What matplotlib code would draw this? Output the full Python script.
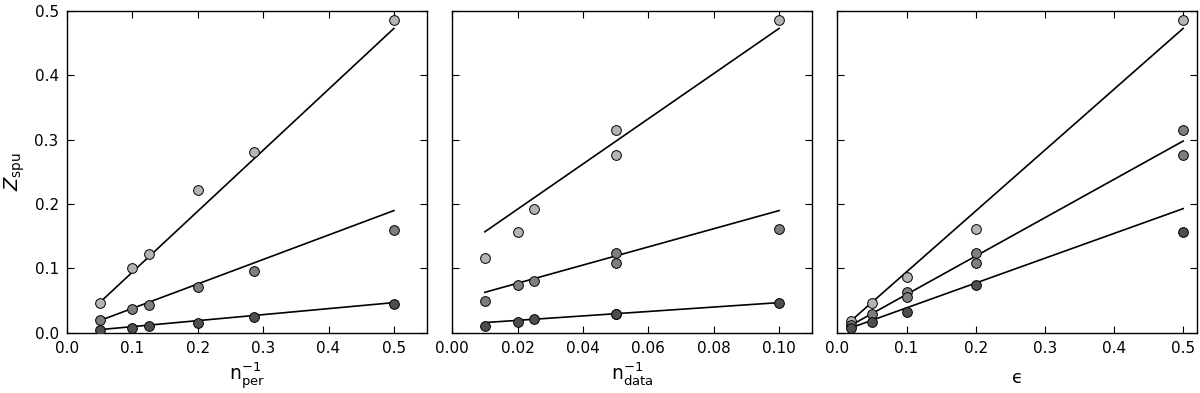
import numpy as np
import matplotlib
matplotlib.use('Agg')
import matplotlib.pyplot as plt

# --- data ---
# panel 1: Z_spu vs 1/n_per
x_per = [0.05, 0.1, 0.125, 0.2, 0.2857, 0.5]
per_light = [0.046, 0.101, 0.123, 0.222, 0.281, 0.486]
per_mid = [0.020, 0.037, 0.043, 0.071, 0.096, 0.160]
per_dark = [0.005, 0.008, 0.011, 0.016, 0.024, 0.045]
per_fit_x = [0.05, 0.5]
per_fit_light = [0.047, 0.473]
per_fit_mid = [0.019, 0.190]
per_fit_dark = [0.005, 0.047]

# panel 2: Z_spu vs 1/n_data (two runs at 0.05)
x_data = [0.01, 0.02, 0.025, 0.05, 0.05, 0.1]
data_light = [0.116, 0.156, 0.193, 0.315, 0.276, 0.486]
data_mid = [0.050, 0.074, 0.081, 0.124, 0.109, 0.161]
data_dark = [0.011, 0.017, 0.021, 0.030, 0.029, 0.046]
data_fit_x = [0.01, 0.1]
data_fit_light = [0.157, 0.473]
data_fit_mid = [0.063, 0.190]
data_fit_dark = [0.016, 0.047]

# panel 3: Z_spu vs epsilon
x_eps = [0.02, 0.05, 0.1, 0.2, 0.5]
eps_light = [0.019, 0.046, 0.087, 0.161, 0.486]
x_eps_mid = [0.02, 0.05, 0.1, 0.1, 0.2, 0.2, 0.5, 0.5]
eps_mid = [0.012, 0.030, 0.063, 0.056, 0.124, 0.109, 0.315, 0.276]
eps_dark = [0.007, 0.017, 0.033, 0.074, 0.156]
eps_fit_x = [0.02, 0.5]
eps_fit_light = [0.019, 0.473]
eps_fit_mid = [0.012, 0.298]
eps_fit_dark = [0.008, 0.193]

TICKS_05 = ['0.0', '0.1', '0.2', '0.3', '0.4', '0.5']
TICKS_01 = ['0.00', '0.02', '0.04', '0.06', '0.08', '0.10']

GREYS = {'light': '#b4b4b4', 'mid': '#7e7e7e', 'dark': '#4e4e4e'}

plt.rcParams['font.family'] = ['DejaVu Sans']
plt.rcParams['mathtext.fontset'] = 'dejavusans'


def style_axes(ax):
    ax.tick_params(direction='in', top=True, right=True, length=5, width=0.8,
                   labelsize=11, pad=6)
    for s in ax.spines.values():
        s.set_linewidth(1.0)


def draw_panel(ax, series, fits):
    fx, fl, fm, fd = fits
    for fy in (fl, fm, fd):
        ax.plot(fx, fy, color='black', lw=1.2, zorder=2)
    for (xs, ys), key in zip(series, ('light', 'mid', 'dark')):
        ax.plot(xs, ys, 'o', ms=7, mfc=GREYS[key], mec='black', mew=0.7, zorder=3)


fig, axes = plt.subplots(1, 3, figsize=(12, 3.93), dpi=100, sharey=True)
fig.subplots_adjust(left=0.0558, right=0.9975, top=0.972, bottom=0.153, wspace=0.071)

ax1, ax2, ax3 = axes
draw_panel(ax1, [(x_per, per_light), (x_per, per_mid), (x_per, per_dark)],
           (per_fit_x, per_fit_light, per_fit_mid, per_fit_dark))
draw_panel(ax2, [(x_data, data_light), (x_data, data_mid), (x_data, data_dark)],
           (data_fit_x, data_fit_light, data_fit_mid, data_fit_dark))
draw_panel(ax3, [(x_eps, eps_light), (x_eps_mid, eps_mid), (x_eps, eps_dark)],
           (eps_fit_x, eps_fit_light, eps_fit_mid, eps_fit_dark))

ax1.set_xlim(0, 0.55)
ax1.set_xticks(np.arange(0, 0.51, 0.1))
ax1.set_xticklabels(TICKS_05)
ax2.set_xlim(0, 0.11)
ax2.set_xticks(np.arange(0, 0.101, 0.02))
ax2.set_xticklabels(TICKS_01)
ax3.set_xlim(0, 0.52)
ax3.set_xticks(np.arange(0, 0.51, 0.1))
ax3.set_xticklabels(TICKS_05)
ax1.set_ylim(0, 0.5)
ax1.set_yticks(np.arange(0, 0.51, 0.1))
ax1.set_yticklabels(TICKS_05)

for ax in axes:
    style_axes(ax)

ax1.set_ylabel(r'$Z_{\mathrm{spu}}$', fontsize=14, labelpad=5)
ax1.set_xlabel(r'$\mathrm{n}_{\mathrm{per}}^{-1}$', fontsize=13.5, labelpad=3)
ax2.set_xlabel(r'$\mathrm{n}_{\mathrm{data}}^{-1}$', fontsize=13.5, labelpad=3)
ax3.set_xlabel('ϵ', fontsize=13, labelpad=9)

fig.savefig('out.png', dpi=100, facecolor='white')
